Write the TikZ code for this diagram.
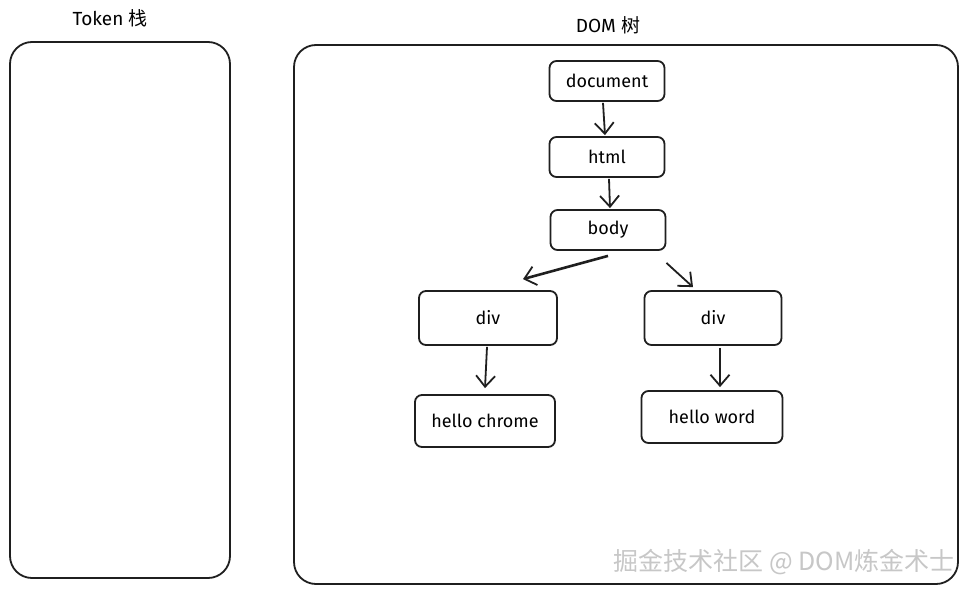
\documentclass[tikz,border=0pt]{standalone}
\usepackage{fontspec}
\setmainfont{Fira Sans}
\newfontfamily\cjk{Noto Sans CJK SC}
\usetikzlibrary{arrows.meta,calc}
\tikzset{
  box/.style={draw=black!88, line width=1.8pt, rounded corners=7pt, inner sep=0pt, font=\fontsize{18}{20}\selectfont},
  frame/.style={draw=black!88, line width=1.8pt, rounded corners=22pt},
  conn/.style={draw=black!88, line width=1.8pt, -{Straight Barb[length=11pt,width=19pt,line width=1.8pt]}},
  title/.style={font=\fontsize{19}{21}\selectfont},
  wmark/.style={font=\cjk\fontsize{25}{28}\selectfont, text=black!22}
}
\begin{document}
\begin{tikzpicture}[x=1pt,y=-1pt]
\useasboundingbox[fill=white] (0,0) rectangle (974,594);
% frames
\draw[frame] (10,42) rectangle (230,578);
\draw[frame] (294,45) rectangle (958,584);
\node[title] (ttoken) at (110,18) {Token {\cjk 栈}};
\node[title] (tdom) at (608,25) {DOM {\cjk 树}};
% nodes
\node[box, minimum width=115pt, minimum height=40pt] (doc) at (607,81) {document};
\node[box, minimum width=115pt, minimum height=40pt] (html) at (607,157) {html};
\node[box, minimum width=115pt, minimum height=40pt] (body) at (608,230) {body};
\node[box, minimum width=138pt, minimum height=54pt] (divl) at (488,318) {div};
\node[box, minimum width=137pt, minimum height=54pt] (divr) at (713,318) {div};
\node[box, minimum width=140pt, minimum height=52pt] (hc) at (485,421) {hello chrome};
\node[box, minimum width=141pt, minimum height=52pt] (hw) at (712,417) {hello word};
% connectors
\draw[conn] ($(doc.south)+(-4,1)$) -- ($(html.north)+(-2,-1)$);
\draw[conn] ($(html.south)+(2,1)$) -- ($(body.north)+(2,-1)$);
\draw[conn, line width=2.6pt] ($(body.south)+(0,5)$) -- ($(divl.north)+(35,-11)$);
\draw[conn] ($(body.south east)+(0,12)$) -- ($(divr.north)+(-20,-3)$);
\draw[conn] ($(divl.south)+(-1,1)$) -- ($(hc.north)+(0,-6)$);
\draw[conn] ($(divr.south)+(7,2)$) -- ($(hw.north)+(8,-3)$);
% watermark
\node[wmark] (wm) at (784,562) {掘金技术社区 @ DOM炼金术士};
\end{tikzpicture}
\end{document}
